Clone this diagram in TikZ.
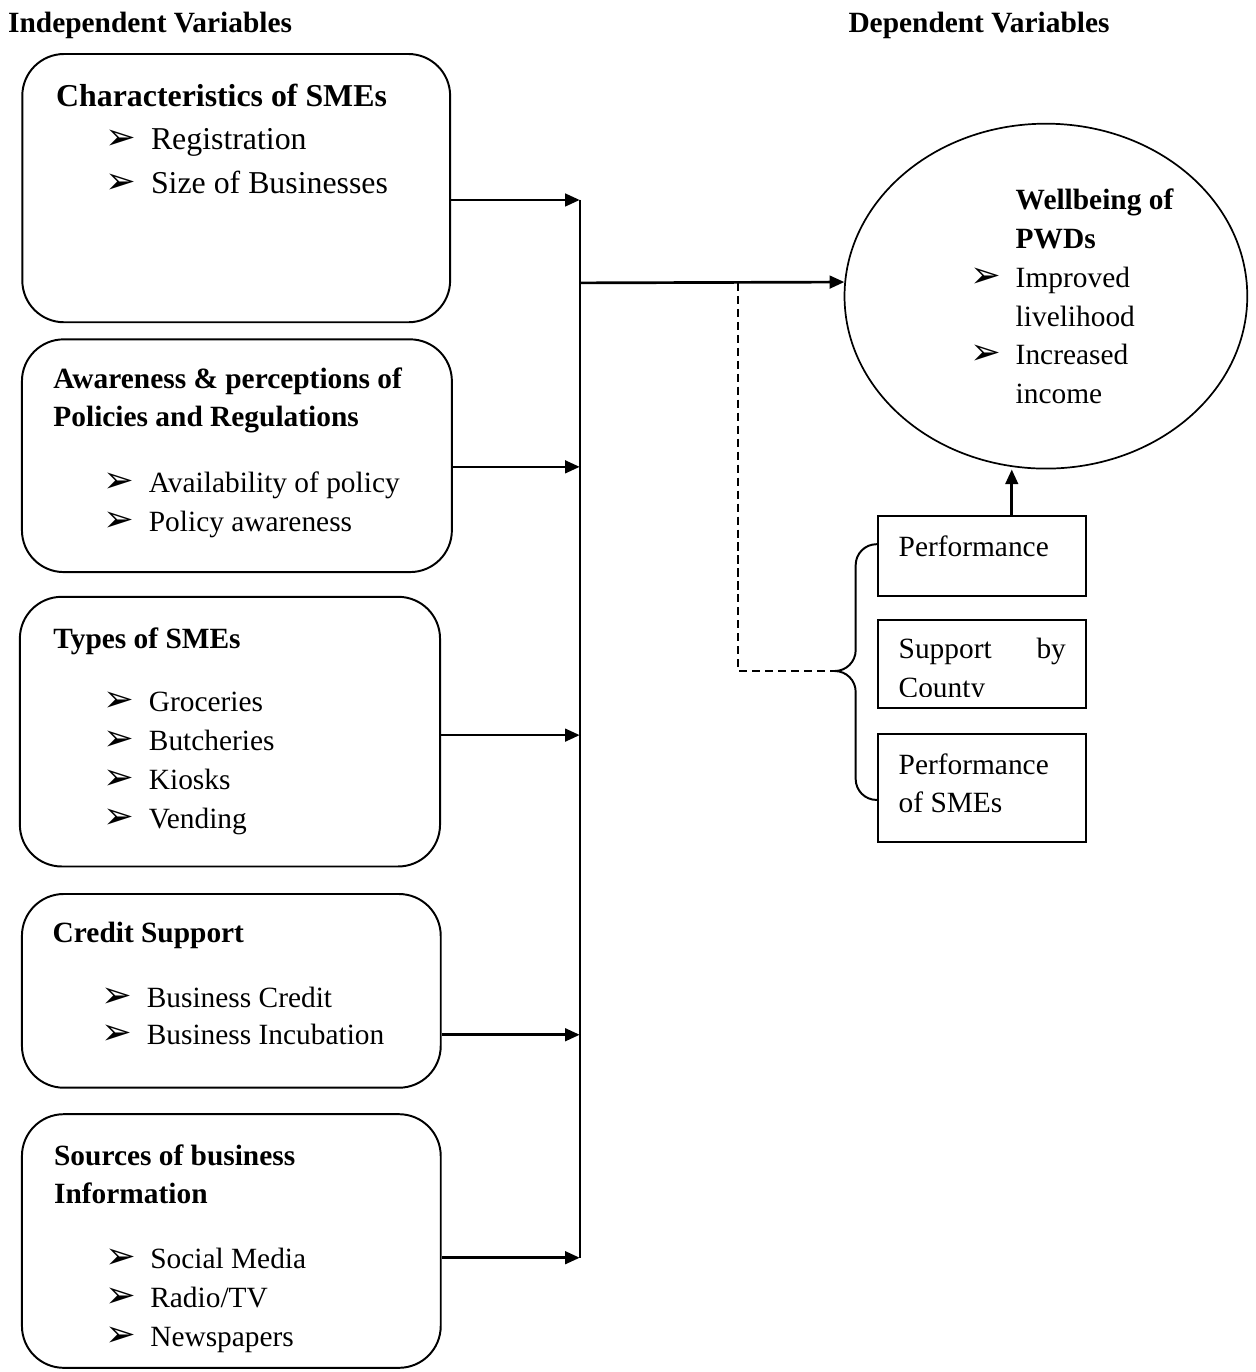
\documentclass[tikz,border=0pt]{standalone}
\usepackage{fontspec}
\setmainfont{Liberation Serif}
\newfontfamily\symbfont{DejaVu Sans}
\usetikzlibrary{shapes.geometric,arrows.meta}

\newcommand{\arrowbul}{{\symbfont\fontsize{15}{15}\selectfont ➢}}
\newcommand{\itm}[1]{\makebox[0.65cm][l]{\arrowbul}#1}

\tikzset{
    ivbox/.style={draw, rounded corners=0.6cm, line width=0.8pt, inner sep=0pt},
    dvbox/.style={draw, line width=0.8pt, inner sep=0pt, minimum width=2.98cm},
    txt/.style={anchor=base west, inner sep=0pt, yshift=-0.04cm, font=\fontsize{12}{14}\selectfont},
    ttl/.style={txt, font=\fontsize{12}{14}\selectfont\bfseries},
    bigtxt/.style={txt, font=\fontsize{13}{15}\selectfont},
    bigttl/.style={txt, font=\fontsize{13}{15}\selectfont\bfseries},
    arr/.style={-{Triangle[length=0.21cm,width=0.18cm]}, line width=1.1pt},
}

\begin{document}
\begin{tikzpicture}
    \useasboundingbox (0,0) rectangle (18.02,-19.69);

    \node[ttl] (indep) at (0.11,-0.43) {Independent Variables};
    \node[ttl] (dep) at (12.17,-0.43) {Dependent Variables};

    % independent variables
    \node[ivbox, minimum width=6.14cm, minimum height=3.85cm] (chr) at (3.39,-2.70) {};
    \node[bigttl] (chrT) at (0.80,-1.49) {Characteristics of SMEs};
    \node[bigtxt] (chrA) at (1.51,-2.10) {\itm{Registration}};
    \node[bigtxt] (chrB) at (1.51,-2.73) {\itm{Size of Businesses}};

    \node[ivbox, minimum width=6.17cm, minimum height=3.34cm] (awr) at (3.40,-6.54) {};
    \node[ttl] (awrT) at (0.76,-5.54) {Awareness \& perceptions of};
    \node[ttl] (awrU) at (0.76,-6.08) {Policies and Regulations};
    \node[txt] (awrA) at (1.48,-7.03) {\itm{Availability of policy}};
    \node[txt] (awrB) at (1.48,-7.59) {\itm{Policy awareness}};

    \node[ivbox, minimum width=6.03cm, minimum height=3.87cm] (typ) at (3.30,-10.50) {};
    \node[ttl] (typT) at (0.76,-9.27) {Types of SMEs};
    \node[txt] (typA) at (1.48,-10.17) {\itm{Groceries}};
    \node[txt] (typB) at (1.48,-10.73) {\itm{Butcheries}};
    \node[txt] (typC) at (1.48,-11.29) {\itm{Kiosks}};
    \node[txt] (typD) at (1.48,-11.85) {\itm{Vending}};

    \node[ivbox, minimum width=6.01cm, minimum height=2.78cm] (crd) at (3.32,-14.22) {};
    \node[ttl] (crdT) at (0.75,-13.49) {Credit Support};
    \node[txt] (crdA) at (1.45,-14.42) {\itm{Business Credit}};
    \node[txt] (crdB) at (1.45,-14.95) {\itm{Business Incubation}};

    \node[ivbox, minimum width=6.01cm, minimum height=3.64cm] (src) at (3.32,-17.81) {};
    \node[ttl] (srcT) at (0.77,-16.69) {Sources of business};
    \node[ttl] (srcU) at (0.77,-17.23) {Information};
    \node[txt] (srcA) at (1.50,-18.17) {\itm{Social Media}};
    \node[txt] (srcB) at (1.50,-18.73) {\itm{Radio/TV}};
    \node[txt] (srcC) at (1.50,-19.29) {\itm{Newspapers}};

    % dependent variable
    \node[draw, ellipse, line width=0.7pt, minimum width=5.78cm, minimum height=4.95cm, inner sep=0pt] (pwd) at (15.01,-4.25) {};
    \node[ttl] (pwdT) at (14.57,-2.97) {Wellbeing of};
    \node[ttl] (pwdU) at (14.57,-3.53) {PWDs};
    \node[txt] (pwdA) at (13.92,-4.08) {\itm{Improved}};
    \node[txt] (pwdB) at (14.57,-4.64) {livelihood};
    \node[txt] (pwdC) at (13.92,-5.19) {\itm{Increased}};
    \node[txt] (pwdD) at (14.57,-5.75) {income};

    % intervening boxes
    \node[dvbox, minimum height=1.15cm] (perf) at (14.09,-7.98) {};
    \node[txt] (perfT) at (12.89,-7.94) {Performance};
    \node[dvbox, minimum height=1.26cm] (sup) at (14.09,-9.53) {};
    \node[txt] (supT) at (12.89,-9.41) {\makebox[2.40cm][s]{Support by}};
    \begin{scope}
        \clip (12.60,-8.90) rectangle (15.58,-10.00);
        \node[txt] (supU) at (12.89,-9.97) {County};
    \end{scope}
    \node[dvbox, minimum height=1.54cm] (sme) at (14.09,-11.31) {};
    \node[txt] (smeT) at (12.89,-11.08) {Performance};
    \node[txt] (smeU) at (12.89,-11.62) {of SMEs};

    % connectors
    \coordinate (b1) at (8.32,-2.87);
    \coordinate (b2) at (8.32,-6.70);
    \coordinate (b3) at (8.32,-10.55);
    \coordinate (b4) at (8.32,-14.85);
    \coordinate (b5) at (8.32,-18.05);
    \coordinate (bus) at (8.32,-4.06);
    \coordinate (split) at (10.59,-4.06);
    \coordinate (tip) at (11.98,-9.63);

    \draw[line width=0.8pt] (b1) -- (b5);
    \draw[arr] (chr.east |- b1) -- (b1);
    \draw[arr] (awr.east |- b2) -- (b2);
    \draw[arr] (typ.east |- b3) -- (b3);
    \draw[arr] (crd.east |- b4) -- (b4);
    \draw[arr] (src.east |- b5) -- (b5);
    \draw[arr] (bus) -- (pwd.176);
    \draw[arr] ([xshift=0.43cm]perf.north) -- ([xshift=0.43cm]perf.north |- pwd.south);
    \draw[line width=0.6pt, dash pattern=on 3.3pt off 2pt] (split) |- (tip);

    % brace
    \draw[line width=0.8pt, rounded corners=0.3cm] (12.60,-7.81) -- (12.28,-7.81) -- (12.28,-9.63) -- (tip);
    \draw[line width=0.8pt, rounded corners=0.3cm] (tip) -- (12.28,-9.63) -- (12.28,-11.48) -- (12.60,-11.48);
\end{tikzpicture}
\end{document}
